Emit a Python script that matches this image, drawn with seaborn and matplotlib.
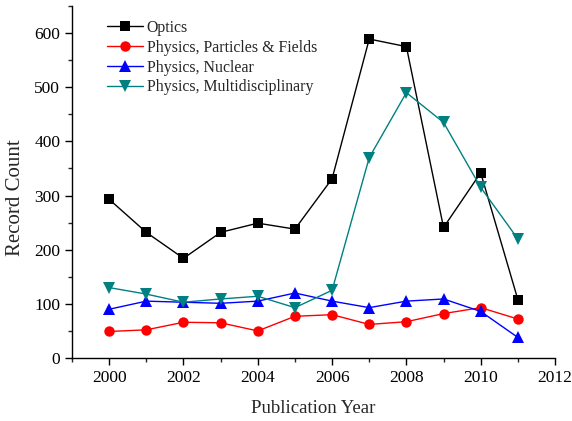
import matplotlib
matplotlib.use("Agg")
import matplotlib.pyplot as plt
from matplotlib.ticker import MultipleLocator
import seaborn as sns
import pandas as pd

years = list(range(2000, 2012))
optics = [293, 232, 184, 232, 249, 238, 331, 589, 575, 241, 342, 108]
particles_fields = [49, 52, 66, 65, 50, 77, 80, 62, 67, 82, 93, 72]
nuclear = [90, 105, 103, 101, 105, 120, 105, 93, 105, 109, 86, 38]
multidisciplinary = [130, 118, 103, 109, 114, 93, 125, 370, 490, 435, 315, 220]

series_names = ["Optics", "Physics, Particles & Fields",
                "Physics, Nuclear", "Physics, Multidisciplinary"]
series_values = [optics, particles_fields, nuclear, multidisciplinary]

df = pd.DataFrame(
    [(y, v, name) for name, vals in zip(series_names, series_values)
     for y, v in zip(years, vals)],
    columns=["Publication Year", "Record Count", "Category"],
)

sns.set_style("ticks")
plt.rcParams["font.family"] = ["Liberation Serif", "DejaVu Serif"]

palette = dict(zip(series_names, ["#000000", "#ff0000", "#0000ff", "#008080"]))
markers = dict(zip(series_names, ["s", "o", "^", "v"]))

fig = plt.figure(figsize=(5.72, 4.21), dpi=100)
ax = fig.add_axes([72 / 572, 63 / 421, 483 / 572, 352 / 421])

sns.lineplot(data=df, x="Publication Year", y="Record Count",
             hue="Category", style="Category", palette=palette,
             markers=markers, dashes=False, markersize=7.5, linewidth=1,
             markeredgewidth=0, ax=ax)

# triangles read a little smaller than squares/circles at equal size
for line in ax.lines:
    if line.get_marker() in ("^", "v"):
        line.set_markersize(8.5)

ax.set_xlim(1999, 2012)
ax.set_ylim(0, 650)
ax.xaxis.set_major_locator(MultipleLocator(2))
ax.xaxis.set_minor_locator(MultipleLocator(1))
ax.yaxis.set_major_locator(MultipleLocator(100))
ax.yaxis.set_minor_locator(MultipleLocator(50))
ax.tick_params(which="major", direction="out", length=5, width=1,
               labelsize=12.5, colors="black")
ax.tick_params(which="minor", direction="out", length=3, width=1)
ax.set_yticks([0, 100, 200, 300, 400, 500, 600])
for s in ["top", "right"]:
    ax.spines[s].set_visible(False)
for s in ["left", "bottom"]:
    ax.spines[s].set_linewidth(1)
    ax.spines[s].set_color("black")

ax.set_xlabel("Publication Year", fontsize=13.5, labelpad=10)
ax.set_ylabel("Record Count", fontsize=15)
ax.yaxis.set_label_coords(-0.097, 0.455)

handles, labels = ax.get_legend_handles_labels()
for h in handles:
    if h.get_marker() in ("^", "v"):
        h.set_markersize(8.5)
leg = ax.legend(handles, labels, loc="upper left",
                bbox_to_anchor=(107 / 572, 1 - 20 / 421),
                bbox_transform=fig.transFigure, frameon=False,
                fontsize=11.4, handlelength=2.3, handletextpad=0.2,
                labelspacing=0.24, borderaxespad=0, borderpad=0)

fig.savefig("out.png", dpi=100)
